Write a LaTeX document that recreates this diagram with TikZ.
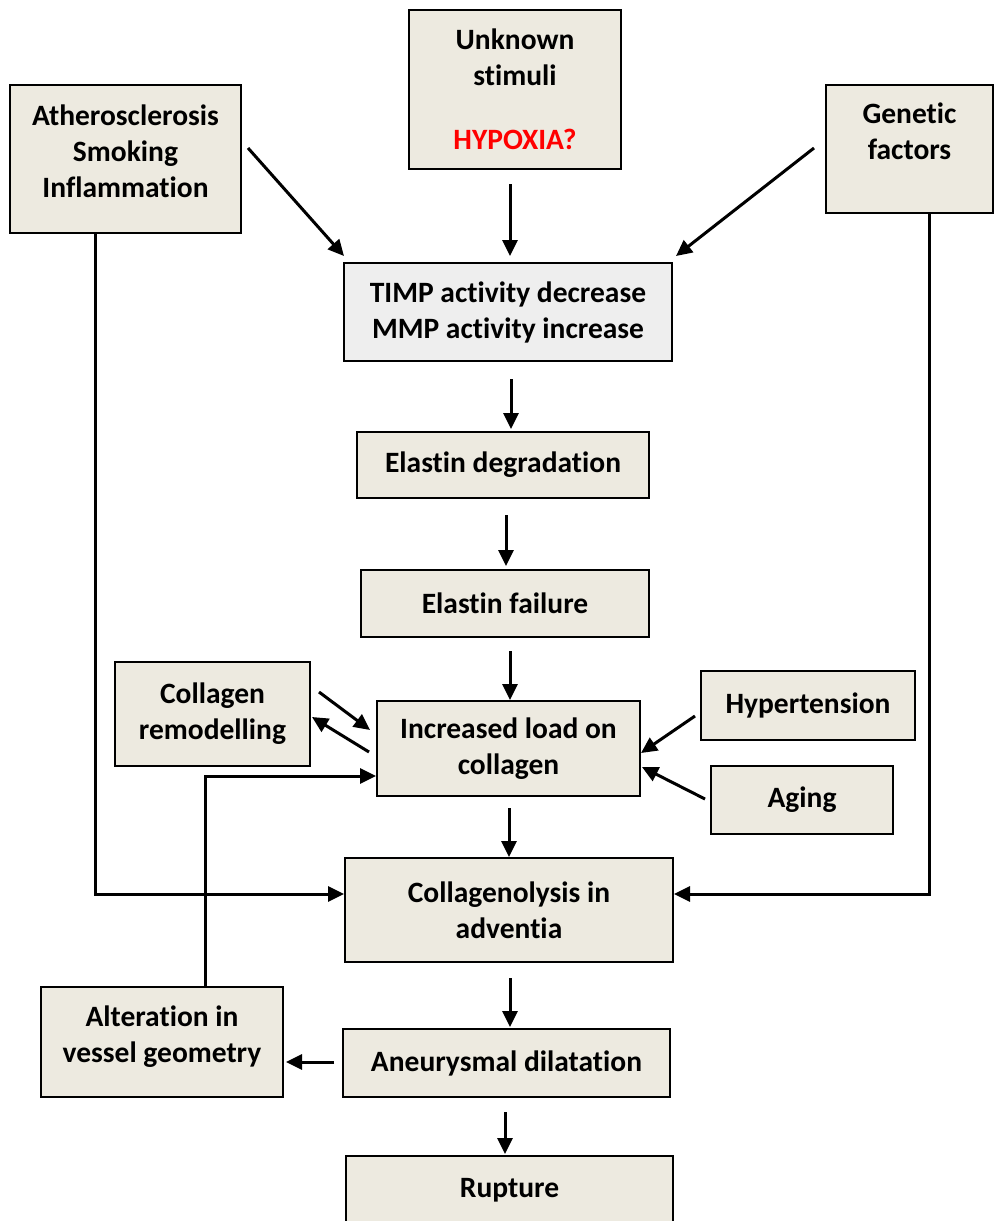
\documentclass[tikz,border=0pt]{standalone}
\usepackage{fontspec}
\setmainfont{Carlito}[Ligatures=NoCommon]
\usetikzlibrary{arrows.meta}
\definecolor{boxfill}{RGB}{237,234,224}
\definecolor{greyfill}{RGB}{238,238,238}
\definecolor{hypred}{RGB}{255,0,0}
\tikzset{
  box/.style={draw=black, line width=2pt, fill=boxfill, align=center,
    font=\fontsize{29.5}{36}\selectfont\bfseries, inner sep=0pt},
  arr/.style={line width=3pt, -{Triangle[length=16pt,width=15pt]}},
  ln/.style={line width=3pt}
}
\begin{document}
\begin{tikzpicture}[x=1pt,y=-1pt]
\useasboundingbox (0,0) rectangle (994,1221);
\clip (0,0) rectangle (994,1221);
% boxes
\node[box, minimum width=231pt, minimum height=148pt] (ath) at (125.5,159) {Atherosclerosis\\Smoking\\Inflammation\\[-20pt]\phantom{x}};
\node[box, minimum width=212pt, minimum height=159pt] (unk) at (515,89.5) {Unknown\\stimuli\\[28pt]\textcolor{hypred}{HYPOXIA?}};
\node[box, minimum width=167pt, minimum height=128pt] (gen) at (909.5,149) {Genetic\\factors\\\phantom{x}};
\node[box, fill=greyfill, minimum width=328pt, minimum height=98pt] (timp) at (508,312) {TIMP activity decrease\\MMP activity increase};
\node[box, minimum width=292pt, minimum height=66pt] (eld) at (503,465) {Elastin degradation};
\node[box, minimum width=288pt, minimum height=67pt] (elf) at (505,603.5) {Elastin failure};
\node[box, minimum width=195pt, minimum height=104pt] (crm) at (212.5,714) {Collagen\\remodelling};
\node[box, minimum width=263pt, minimum height=95pt] (inc) at (508.5,748.5) {Increased load on\\collagen};
\node[box, minimum width=214pt, minimum height=69pt] (hyp) at (808,705.5) {Hypertension};
\node[box, minimum width=182pt, minimum height=68pt] (age) at (802,800) {Aging};
\node[box, minimum width=328pt, minimum height=104pt] (cgl) at (509,910) {Collagenolysis in\\adventia};
\node[box, minimum width=242pt, minimum height=110pt] (alt) at (162,1042) {Alteration in\\vessel geometry\\[-20pt]\phantom{x}};
\node[box, minimum width=327pt, minimum height=68pt] (ane) at (506.5,1063) {Aneurysmal dilatation};
\node[box, minimum width=327pt, minimum height=84pt] (rup) at (509.5,1198) {Rupture\\[-16pt]\phantom{x}};
% connectors
\draw[arr] ([xshift=6pt,yshift=11pt]ath.east) -- ([xshift=1pt,yshift=6pt]timp.north west);
\draw[arr] ([xshift=-5pt,yshift=-14pt]unk.south) -- ([xshift=2pt,yshift=6pt]timp.north);
\draw[arr] ([xshift=-11pt,yshift=1pt]gen.west) -- ([xshift=3pt,yshift=6pt]timp.north east);
\draw[arr] ([xshift=3pt,yshift=-17pt]timp.south) -- ([xshift=8pt,yshift=2pt]eld.north);
\draw[arr] ([xshift=3pt,yshift=-16pt]eld.south) -- ([xshift=1pt,yshift=3pt]elf.north);
\draw[arr] ([xshift=5pt,yshift=-13pt]elf.south) -- ([xshift=1.5pt]inc.north);
\draw[arr] ([xshift=0.5pt,yshift=-11pt]inc.south) -- (cgl.north);
\draw[arr] ([xshift=1pt,yshift=-15pt]cgl.south) -- ([xshift=3.5pt,yshift=1pt]ane.north);
\draw[arr] ([xshift=-1.5pt,yshift=-14pt]ane.south) -- ([xshift=-4.5pt,yshift=1pt]rup.north);
\draw[arr] ([xshift=8pt,yshift=22pt]crm.east) -- ([xshift=-6pt,yshift=18.5pt]inc.west);
\draw[arr] ([xshift=-7pt,yshift=-3.5pt]inc.west) -- ([xshift=1pt,yshift=-3pt]crm.east);
\draw[arr] ([xshift=-5pt,yshift=-10.5pt]hyp.west) -- ([yshift=-4.5pt]inc.east);
\draw[arr] ([xshift=-5pt,yshift=1pt]age.west) -- ([xshift=1pt,yshift=-18.5pt]inc.east);
\draw[arr] ([xshift=-30.5pt]ath.south) |- ([yshift=16pt]cgl.west);
\draw[arr] ([xshift=19.5pt]gen.south) |- ([yshift=16pt]cgl.east);
\draw[arr] ([xshift=-8pt,yshift=1pt]ane.west) -- ([xshift=2pt,yshift=-20pt]alt.east);
\draw[arr] ([xshift=43pt]alt.north) |- ([yshift=-27.5pt]inc.west);
\end{tikzpicture}
\end{document}
